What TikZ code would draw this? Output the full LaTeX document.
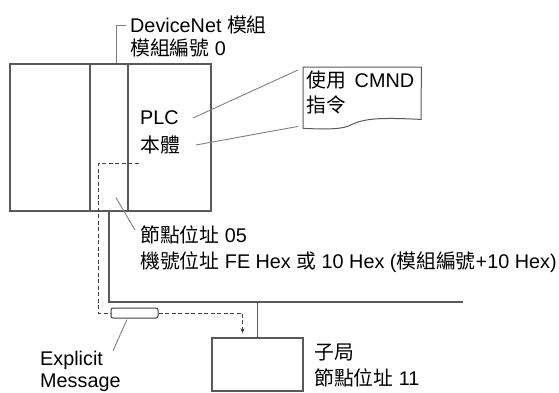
\documentclass[tikz,border=0pt]{standalone}
\usepackage{fontspec}
\setmainfont{Liberation Sans}
\newfontfamily\cjk{Noto Sans CJK TC}
\usetikzlibrary{positioning, arrows.meta, calc}

\begin{document}
\begin{tikzpicture}[x=1pt, y=-1pt,
  font=\fontsize{19.8}{23}\selectfont, >={Stealth[length=5pt, width=4pt]},
  wire/.style={draw=black!65, line width=1.3pt},
  box/.style={wire, inner sep=0pt},
  lbl/.style={anchor=west, inner sep=2pt},
  lead/.style={draw=black!50, line width=0.9pt},
  msg/.style={draw=black!75, line width=1pt, dash pattern=on 4pt off 2.5pt},
]
  \useasboundingbox (0,0) rectangle (559,392);
  % PLC and the DeviceNet module
  \node[box, minimum width=201pt, minimum height=147pt] (plc) at (110.5,137.5) {};
  \node[box, minimum width=38pt, minimum height=147pt] (mod) at (109,137.5) {};
  \node[lbl] (dn1) at (128,25) {DeviceNet {\cjk 模組}};
  \node[lbl] (dn2) at (128,48) {{\cjk 模組編號} 0};
  \draw[lead] ([xshift=7pt]mod.north) |- ([xshift=-2pt]dn1.west);
  \node[lbl] (p1) at (138,118) {PLC};
  \node[lbl] (p2) at (138,145) {\cjk 本體};

  % CMND sheet
  \node[minimum width=118pt, minimum height=61pt, anchor=north west, inner sep=0pt] (doc) at (303,67) {};
  \draw[wire, line width=1pt] (doc.south west) -- (doc.north west) -- (doc.north east)
    -- ($(doc.south west)+(118,-9)$)
    .. controls ($(doc.south west)+(77,-11)$) and ($(doc.south west)+(62,-10)$) .. ($(doc.south west)+(49,-4)$)
    .. controls ($(doc.south west)+(40,1)$) and ($(doc.south west)+(27,1)$) .. (doc.south west);
  \node[lbl] (d1) at (304,80) {{\cjk 使用}\hspace{0.45em}CMND};
  \node[lbl] (d2) at (304,105) {\cjk 指令};
  \draw[lead] ([xshift=12pt]p1.east) -- ($(doc.north west)+(-5,3)$);
  \draw[lead] ([xshift=14pt]p2.east) -- ($(doc.south west)+(-5,-2)$);

  % node address
  \node[lbl] (n1) at (138,235) {{\cjk 節點位址} 05};
  \node[lbl] (n2) at (138,262) {{\cjk 機號位址} FE Hex {\cjk 或} 10 Hex ({\cjk 模組編號}+10 Hex)};
  \draw[lead] ($(mod.south)+(7,-14)$) -- ($(n1.west)+(-3,-5)$);

  % network and slave
  \node[box, minimum width=91pt, minimum height=53pt] (ch) at (257.5,364.5) {};
  \coordinate (bus) at (463,302);
  \draw[wire] (mod.south) |- (bus);
  \draw[wire] (ch.north) -- (ch.north |- bus);
  \node[lbl] (c1) at (312,352) {\cjk 子局};
  \node[lbl] (c2) at (312,378) {{\cjk 節點位址} 11};

  % explicit message
  \node[draw=black!75, line width=1pt, rounded corners=2pt, minimum width=47pt, minimum height=10pt, inner sep=0pt] (em) at (134.5,313) {};
  \draw[msg] ($(mod.east)+(10,25.5)$) -- ++(-40,0) |- (em.west);
  \draw[msg, ->] (em.east) -| ($(ch.north)+(-15,-4)$);
  \node[lbl] (ex1) at (38,360) {Explicit};
  \node[lbl] (ex2) at (38,383) {Message};
  \draw[lead] ($(em.south)+(-7.5,1)$) -- ($(ex1.north east)+(8,2)$);
\end{tikzpicture}
\end{document}
